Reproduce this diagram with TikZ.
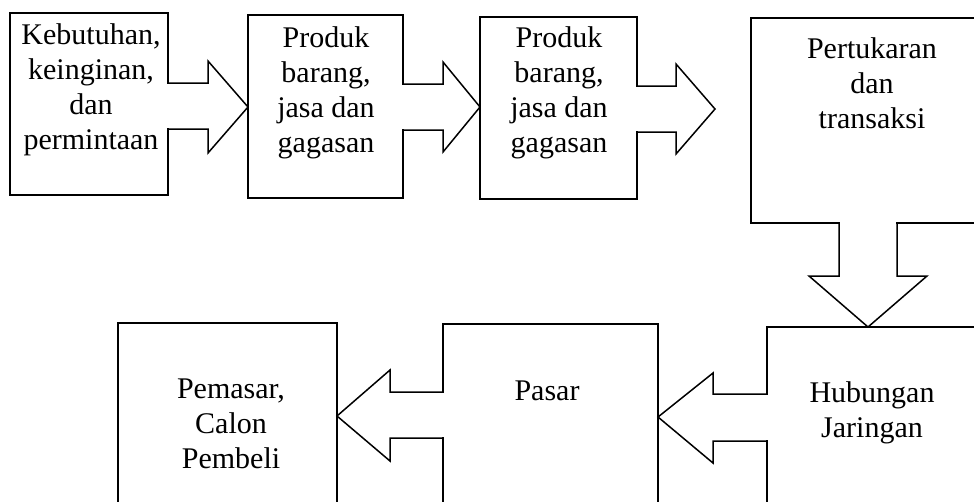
\documentclass[tikz,border=0pt]{standalone}
\usepackage{fontspec}
\setmainfont{Liberation Serif}

\begin{document}
\begin{tikzpicture}[x=1pt, y=-1pt, line width=1.5pt,
    txt/.style={anchor=north, align=center, inner sep=0pt, font=\fontsize{30}{35}\selectfont},
    gap/.style={fill=white}]
        \clip (0,0) rectangle (974,501);
        % boxes
        \draw (10,13) rectangle (168,195);
        \draw (248,15) rectangle (403,198);
        \draw (480,17) rectangle (637,199);
        \draw (751,18) rectangle (1000,223);
        \draw (767,327) rectangle (1000,540);
        \draw (443,324) rectangle (658,540);
        \draw (118,323) rectangle (337,540);
        % openings where the arrows leave the boxes
        \fill [gap] (166.5,84) rectangle (169.5,128);
        \fill [gap] (401.5,85) rectangle (404.5,129);
        \fill [gap] (635.5,87) rectangle (638.5,131);
        \fill [gap] (840,221.5) rectangle (896,224.5);
        \fill [gap] (765.5,395) rectangle (768.5,440);
        \fill [gap] (441.5,393) rectangle (444.5,437);
        % block arrows
        \draw (168,83) -- (208,83) -- (208,61) -- (248,107) -- (208,153) -- (208,129) -- (168,129);
        \draw (403,84) -- (443,84) -- (443,62) -- (480,107) -- (443,152) -- (443,130) -- (403,130);
        \draw (637,86) -- (676,86) -- (676,64) -- (715,109) -- (676,154) -- (676,132) -- (637,132);
        \draw (839,223) -- (839,276) -- (809,276) -- (868,327) -- (927,276) -- (897,276) -- (897,223);
        \draw (767,394) -- (713,394) -- (713,373) -- (658,417) -- (713,463) -- (713,441) -- (767,441);
        \draw (443,392) -- (390,392) -- (390,370) -- (337,416) -- (390,461) -- (390,438) -- (443,438);
        % texts
        \node (need) at (91,22.5) [txt] {Kebutuhan,\\keinginan,\\dan\\permintaan};
        \node (prod1) at (326,26) [txt] {Produk\\barang,\\jasa dan\\gagasan};
        \node (prod2) at (559,26) [txt] {Produk\\barang,\\jasa dan\\gagasan};
        \node (trade) at (872,37) [txt] {Pertukaran\\dan\\transaksi};
        \node (net) at (872,381) [txt] {Hubungan\\Jaringan};
        \node (market) at (547,380) [txt] {Pasar};
        \node (buyer) at (231,378) [txt] {Pemasar,\\Calon\\Pembeli};
    \end{tikzpicture}
\end{document}
